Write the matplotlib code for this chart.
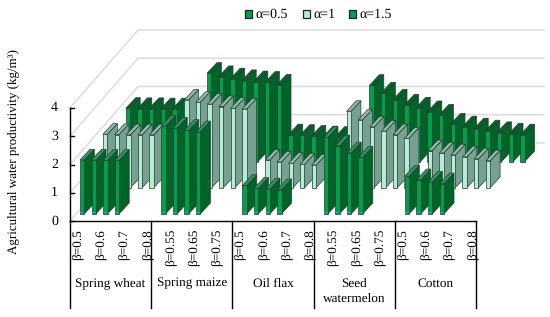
import numpy as np
import matplotlib
matplotlib.use('Agg')
import matplotlib.pyplot as plt
from matplotlib.patches import Polygon, Rectangle

plt.rcParams['font.family'] = ['Liberation Serif', 'DejaVu Serif']
plt.rcParams['text.hinting'] = 'no_hinting'

crops = ['Spring wheat', 'Spring maize', 'Oil flax', 'Seed\nwatermelon', 'Cotton']
beta_labels = [
    ['β=0.5', 'β=0.6', 'β=0.7', 'β=0.8'],
    ['β=0.55', 'β=0.65', 'β=0.75'],
    ['β=0.5', 'β=0.6', 'β=0.7', 'β=0.8'],
    ['β=0.55', 'β=0.65', 'β=0.75'],
    ['β=0.5', 'β=0.6', 'β=0.7', 'β=0.8'],
]
legend_labels = ['α=0.5', 'α=1', 'α=1.5']

# one list per crop
alpha_05 = [
    [1.90, 1.90, 1.89, 1.89],
    [3.10, 3.03, 2.95, 2.90],
    [1.00, 0.90, 0.88, 0.85],
    [2.70, 2.40, 2.15, 2.00],
    [1.33, 1.20, 1.12, 1.06],
]
alpha_10 = [
    [1.89, 1.88, 1.87, 1.87, 1.87],
    [3.10, 3.02, 2.96, 2.87, 2.81, 2.78],
    [0.98, 0.91, 0.86, 0.83, 0.80],
    [2.70, 2.40, 2.15, 2.00, 1.87, 1.75],
    [1.31, 1.23, 1.16, 1.09, 1.02, 0.95],
]
alpha_15 = [
    [1.89, 1.88, 1.88, 1.87, 1.87],
    [3.13, 3.01, 2.93, 2.87, 2.83, 2.81, 2.71],
    [0.95, 0.93, 0.90, 0.88, 0.86, 0.84, 0.82],
    [2.70, 2.43, 2.18, 2.00, 1.90, 1.77, 1.65],
    [1.33, 1.23, 1.16, 1.09, 1.03, 0.98, 0.95],
]

W, H = 550, 317
X0, Y0 = 70, 221      # origin of the floor, pixels
GROUP = 81.2
SLOT = GROUP / 7
UNIT = 28.25
ROW_DX, ROW_DY = 22.9, 26.0
FACE_W, SIDE_DX, SIDE_DY = 4.4, 10.0, 10.7

# face, side, top
colors = [
    ('#00a04a', '#006428', '#2f9464'),
    ('#b4ecd4', '#76a08f', '#8dbda8'),
    ('#00a04a', '#006428', '#006428'),
]

fig = plt.figure(figsize=(W / 100, H / 100), dpi=100)
ax = fig.add_axes([0, 0, 1, 1])
ax.set_xlim(0, W)
ax.set_ylim(H, 0)
ax.axis('off')


def bar(x, y, h, face, side, top_col, foot=None):
    top = y - h * UNIT
    r = x + FACE_W
    ec = '#2a3a32'
    ax.add_patch(Polygon([(r, y), (r + SIDE_DX, y - SIDE_DY), (r + SIDE_DX, top - SIDE_DY), (r, top)],
                         fc=side, ec=ec, lw=0.5))
    ax.add_patch(Polygon([(x, top), (r, top), (r + SIDE_DX, top - SIDE_DY), (x + SIDE_DX, top - SIDE_DY)],
                         fc=top_col, ec=ec, lw=0.5))
    ax.add_patch(Rectangle((x, top), FACE_W, y - top, fc=face, ec=ec, lw=0.5))
    if foot:
        ax.add_patch(Rectangle((x + 0.4, y - 2), FACE_W - 0.8, 1.7, fc=foot, ec='none'))


# back wall gridlines
for v in range(5):
    yy = Y0 - v * UNIT
    ax.plot([X0, X0 + 68, X0 + 68 + 406], [yy, yy - 78, yy - 78], color='#dcdcdc', lw=1.1, zorder=0)

# rows back to front, each row left to right so a face covers the side before it
for r, series in [(2, alpha_15), (1, alpha_10), (0, alpha_05)]:
    face, side, top_col = colors[r]
    foot = '#18b49a' if r == 0 else None
    for c in range(len(crops)):
        for i, val in enumerate(series[c]):
            x = X0 + 10 + (c * 7 + i) * SLOT + r * ROW_DX
            y = Y0 - 7.3 - r * ROW_DY
            bar(x, y, val, face, side, top_col, foot)

# y axis
ax.plot([X0, X0], [Y0 - 4 * UNIT, Y0], color='k', lw=1.0)
for v in range(5):
    yy = Y0 - v * UNIT
    ax.plot([X0, X0 + 4], [yy, yy], color='k', lw=1.0)
    ax.text(X0 - 12, yy, str(v), ha='right', va='center', fontsize=10)
ax.text(13, 152, 'Agricultural water productivity (kg/m³)', rotation=90,
        ha='center', va='center', fontsize=9.4)

# x axis with crop groups
ax.plot([X0, X0 + 5 * GROUP], [Y0, Y0], color='k', lw=1.0)
bounds = X0 + np.arange(6) * GROUP
for b in bounds:
    ax.plot([b, b], [Y0, 308], color='k', lw=1.0)
for c, name in enumerate(crops):
    cx = bounds[c] + GROUP / 2
    ax.text(cx, 277.5, name, ha='center', va='top', fontsize=9.5, linespacing=1.35)
    labs = beta_labels[c]
    for i, lab in enumerate(labs):
        if len(labs) == 4:
            ax.text(bounds[c] + 7 + i * 23.3, 260, lab, rotation=90, ha='center', va='bottom', fontsize=9.5)
        else:
            ax.text(bounds[c] + 19 + i * 23.1, 266.5, lab, rotation=90, ha='center', va='bottom', fontsize=9.5)

# legend
for lx, lab, col in zip([245, 303, 349], legend_labels, colors):
    ax.add_patch(Rectangle((lx, 10), 7, 7.5, fc=col[0], ec='#222222', lw=0.9))
    ax.text(lx + 10, 14.3, lab, ha='left', va='center', fontsize=10)

fig.savefig('out.png', dpi=100)
